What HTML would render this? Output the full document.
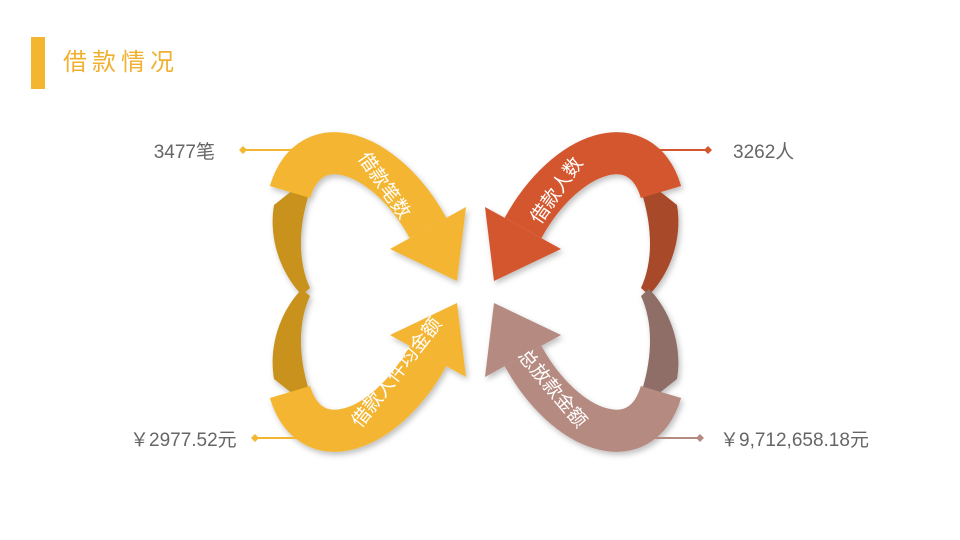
<!DOCTYPE html>
<html><head><meta charset="utf-8"><style>
body{margin:0;background:#fff;}
svg{display:block;font-family:"Liberation Sans","Noto Sans CJK SC",sans-serif;}
</style></head><body>
<svg width="960" height="540" viewBox="0 0 960 540">
<defs>
<filter id="sh" x="-20%" y="-20%" width="140%" height="140%"><feDropShadow dx="2" dy="3" stdDeviation="3" flood-opacity="0.25"/></filter>
<g id="arrow">
  <path d="M274 205 C268 240 282 275 302 295 L310 288 C296 258 298 215 318 170 Z" fill="var(--fold)"/>
  <path d="M290 192 C310 125 385 150 428 228" fill="none" stroke="var(--main)" stroke-width="42"/>
  <polygon points="390,249 466,207 457,281" fill="var(--main)"/>
</g>
</defs>
<rect x="31" y="37" width="14" height="52" fill="#F4B630"/>
<text x="63" y="70" font-size="24" fill="#F0B030" letter-spacing="5">借款情况</text>

<g filter="url(#sh)">
<g style="--main:#F4B630;--fold:#C8921E"><use href="#arrow"/></g>
<g style="--main:#F4B630;--fold:#C8921E" transform="translate(0,584) scale(1,-1)"><use href="#arrow"/></g>
<g style="--main:#D4562F;--fold:#A84A2A" transform="translate(951,0) scale(-1,1)"><use href="#arrow"/></g>
<g style="--main:#B58A80;--fold:#8E6E66" transform="translate(951,584) scale(-1,-1)"><use href="#arrow"/></g>
</g>

<g fill="#fff" font-size="19" text-anchor="middle">
<text transform="translate(385,185) rotate(55)" dy="7">借款笔数</text>
<text transform="translate(556,190) rotate(-55)" dy="7">借款人数</text>
<text transform="translate(396,372) rotate(-52)" dy="7">借款人件均金额</text>
<text transform="translate(553,388) rotate(50)" dy="7">总放款金额</text>
</g>

<g>
<line x1="243" y1="150" x2="330" y2="150" stroke="#F4B630" stroke-width="2"/>
<polygon points="239,150 243,146 247,150 243,154" fill="#F4B630"/></g>
<g>
<line x1="620" y1="150" x2="708" y2="150" stroke="#D4562F" stroke-width="2"/>
<polygon points="704,150 708,146 712,150 708,154" fill="#D4562F"/></g>
<g>
<line x1="255" y1="438" x2="330" y2="438" stroke="#F4B630" stroke-width="2"/>
<polygon points="251,438 255,434 259,438 255,442" fill="#F4B630"/></g>
<g>
<line x1="620" y1="438" x2="700" y2="438" stroke="#B58A80" stroke-width="2"/>
<polygon points="696,438 700,434 704,438 700,442" fill="#B58A80"/></g>

<g fill="#666" font-size="19">
<text x="215" y="158" text-anchor="end">3477笔</text>
<text x="733" y="158">3262人</text>
<text x="130" y="446">￥2977.52元</text>
<text x="720" y="446">￥9,712,658.18元</text>
</g>
</svg>
</body></html>
